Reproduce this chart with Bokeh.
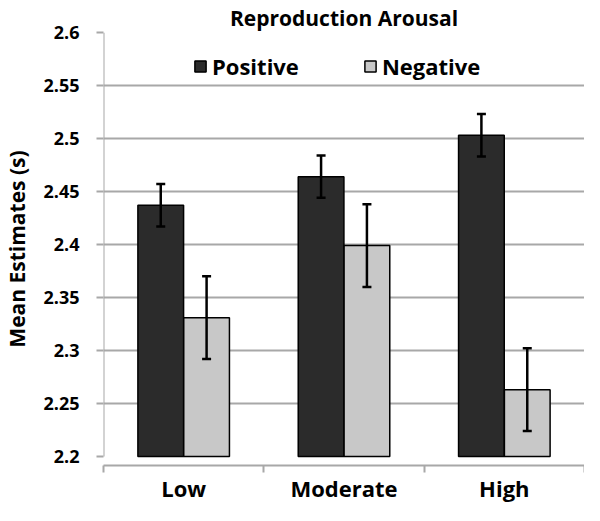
from bokeh.plotting import figure
from bokeh.models import ColumnDataSource, Range1d, FixedTicker, Whisker, TeeHead
from bokeh.embed import file_html
from bokeh.resources import INLINE

# ---- data ----
categories = ["Low", "Moderate", "High"]
positive = [2.437, 2.464, 2.503]
positive_err = [0.020, 0.020, 0.020]
negative = [2.331, 2.399, 2.263]
negative_err = [0.039, 0.039, 0.039]
y_ticks = [2.2, 2.25, 2.3, 2.35, 2.4, 2.45, 2.5, 2.55, 2.6]
y_tick_labels = ["2.2", "2.25", "2.3", "2.35", "2.4", "2.45", "2.5", "2.55", "2.6"]
title_text = "Reproduction Arousal"
y_label = "Mean Estimates (s)"

FONT = "Open Sans"
GRID = "#a8a8a8"
BAR_W = 0.285
OFF = 0.143

n = len(categories)
centers = [i + 0.5 for i in range(n)]

src_pos = ColumnDataSource(dict(
    x=[c - OFF for c in centers], top=positive,
    upper=[v + e for v, e in zip(positive, positive_err)],
    lower=[v - e for v, e in zip(positive, positive_err)]))
src_neg = ColumnDataSource(dict(
    x=[c + OFF for c in centers], top=negative,
    upper=[v + e for v, e in zip(negative, negative_err)],
    lower=[v - e for v, e in zip(negative, negative_err)]))

p = figure(width=584, height=505, output_backend="svg", toolbar_location=None,
           x_range=Range1d(0, n), y_range=Range1d(2.1915, y_ticks[-1]),
           min_border_left=99, min_border_right=0, min_border_top=28,
           min_border_bottom=40)
p.outline_line_color = None
p.background_fill_color = "white"

# title
p.title.text = title_text
p.title.align = "center"
p.title.offset = -17
p.title.standoff = 2
p.title.text_font = FONT
p.title.text_font_style = "bold"
p.title.text_font_size = "21px"
p.title.text_color = "black"

# vertical axis line (only from 2.2 to 2.6)
p.segment(x0=[0], y0=[y_ticks[0]], x1=[0], y1=[y_ticks[-1]],
          line_color=GRID, line_width=2)

p.vbar(x="x", top="top", bottom=y_ticks[0], width=BAR_W, source=src_pos,
       fill_color="#2b2b2b", line_color="black", line_width=1.5,
       legend_label="Positive")
p.vbar(x="x", top="top", bottom=y_ticks[0], width=BAR_W, source=src_neg,
       fill_color="#c8c8c8", line_color="black", line_width=1.5,
       legend_label="Negative")

for src in (src_pos, src_neg):
    w = Whisker(source=src, base="x", upper="upper", lower="lower",
                level="overlay",
                line_color="black", line_width=2.5,
                upper_head=TeeHead(size=9, line_width=2.5, line_color="black"),
                lower_head=TeeHead(size=9, line_width=2.5, line_color="black"))
    p.add_layout(w)

# y axis
yax = p.yaxis[0]
yax.ticker = FixedTicker(ticks=y_ticks)
yax.major_label_overrides = {t: s for t, s in zip(y_ticks, y_tick_labels)}
yax.axis_line_color = None
yax.major_tick_out = 7
yax.major_tick_in = 0
yax.major_tick_line_color = GRID
yax.major_tick_line_width = 2
yax.minor_tick_line_color = None
yax.major_label_standoff = 17
yax.major_label_text_font = FONT
yax.major_label_text_font_style = "bold"
yax.major_label_text_font_size = "18px"
yax.major_label_text_color = "black"
yax.axis_label = y_label
yax.axis_label_standoff = 9
yax.axis_label_text_font = FONT
yax.axis_label_text_font_style = "bold"
yax.axis_label_text_font_size = "21px"
yax.axis_label_text_color = "black"

p.ygrid.ticker = FixedTicker(ticks=y_ticks[1:])
p.ygrid.grid_line_color = GRID
p.ygrid.grid_line_width = 2
p.xgrid.grid_line_color = None

# x axis
xax = p.xaxis[0]
xax.ticker = FixedTicker(ticks=centers, minor_ticks=list(range(n + 1)))
xax.major_label_overrides = {c: s for c, s in zip(centers, categories)}
xax.axis_line_color = GRID
xax.axis_line_width = 2
xax.major_tick_line_color = None
xax.major_tick_out = 0
xax.major_tick_in = 0
xax.minor_tick_line_color = GRID
xax.minor_tick_line_width = 2
xax.minor_tick_out = 7
xax.minor_tick_in = 0
xax.major_label_standoff = 0
xax.major_label_text_font = FONT
xax.major_label_text_font_style = "bold"
xax.major_label_text_font_size = "22px"
xax.major_label_text_color = "black"

# legend
lg = p.legend[0]
lg.orientation = "horizontal"
lg.location = (90, 384)
lg.border_line_color = None
lg.background_fill_alpha = 0
lg.padding = 0
lg.margin = 0
lg.spacing = 64
lg.glyph_width = 14
lg.glyph_height = 14
lg.label_standoff = 5
lg.label_text_font = FONT
lg.label_text_font_style = "bold"
lg.label_text_font_size = "22px"
lg.label_text_color = "black"

open("out.html", "w").write(file_html(p, INLINE))
